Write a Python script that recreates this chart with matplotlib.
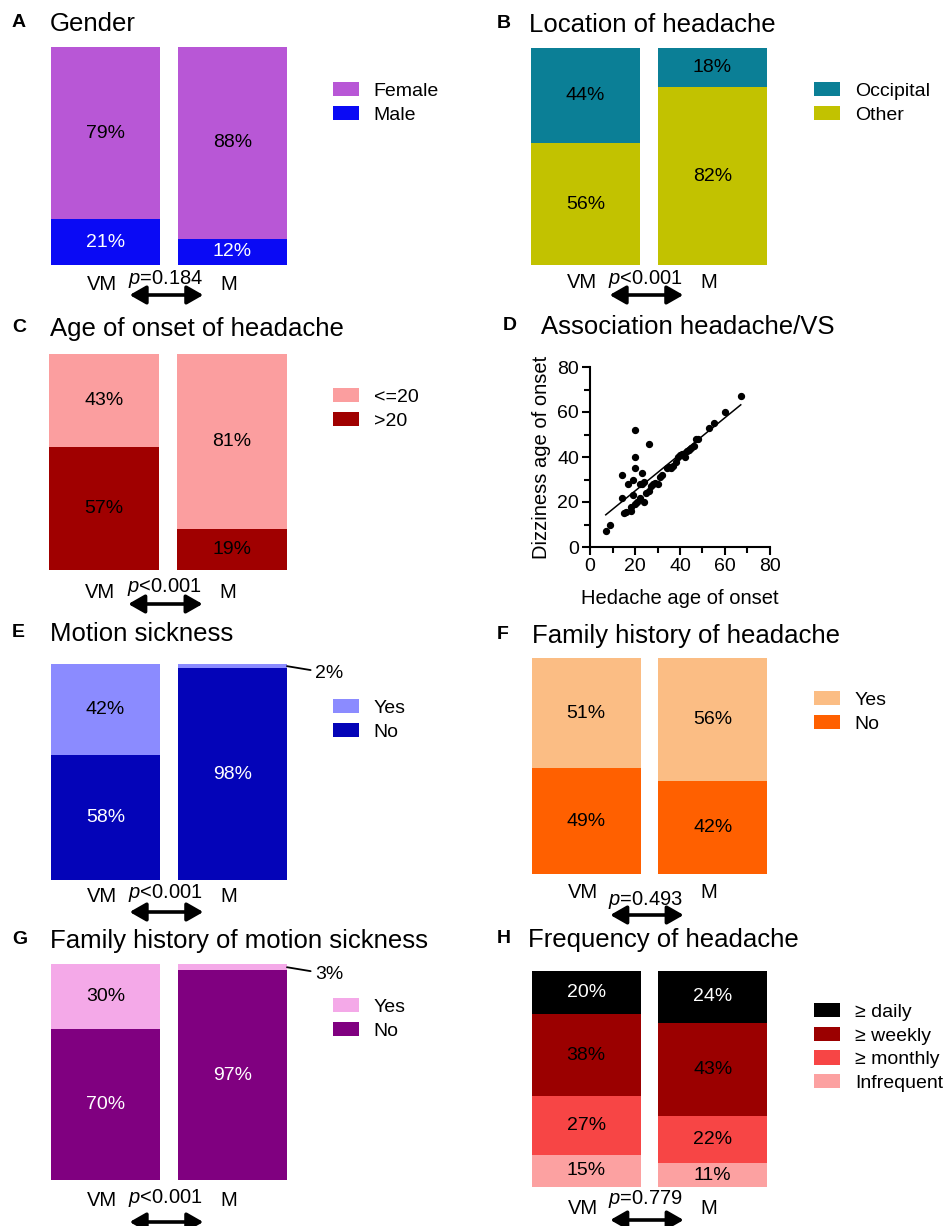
import matplotlib
matplotlib.use("Agg")
import matplotlib.pyplot as plt
from matplotlib.patches import Patch
import numpy as np

plt.rcParams['font.family'] = ['Liberation Sans', 'DejaVu Sans']
plt.rcParams['mathtext.fontset'] = 'custom'
plt.rcParams['mathtext.it'] = 'Liberation Sans:italic'
plt.rcParams['mathtext.rm'] = 'Liberation Sans'

# ---- data (segments listed top to bottom) ----
groups = ['VM', 'M']

gender_cats = ['Female', 'Male']
gender_vm = [79, 21]
gender_m = [88, 12]
gender_p = '$p$=0.184'

location_cats = ['Occipital', 'Other']
location_vm = [44, 56]
location_m = [18, 82]
location_p = '$p$<0.001'

onset_cats = ['<=20', '>20']
onset_vm = [43, 57]
onset_m = [81, 19]
onset_p = '$p$<0.001'

motion_cats = ['Yes', 'No']
motion_vm = [42, 58]
motion_m = [2, 98]
motion_p = '$p$<0.001'

famhead_cats = ['Yes', 'No']
famhead_vm = [51, 49]
famhead_m = [56, 42]
famhead_p = '$p$=0.493'

fammotion_cats = ['Yes', 'No']
fammotion_vm = [30, 70]
fammotion_m = [3, 97]
fammotion_p = '$p$<0.001'

freq_cats = ['\u2265 daily', '\u2265 weekly', '\u2265 monthly', 'Infrequent']
freq_vm = [20, 38, 27, 15]
freq_m = [24, 43, 22, 11]
freq_p = '$p$=0.779'

# headache onset age vs dizziness onset age
head_age = [7, 9, 14, 14, 15, 16, 17, 18, 19, 19, 18, 20, 21, 20, 20, 20, 22, 22,
            23, 23, 24, 24, 26, 25, 26, 27, 28, 29, 30, 31, 32, 34, 35, 36, 37, 38,
            39, 40, 41, 42, 43, 44, 45, 46, 47, 48, 53, 55, 60, 67]
dizzy_age = [7, 10, 32, 22, 15, 15.5, 28, 16, 30, 23, 18, 19, 20, 52, 40, 35, 28, 22,
             33, 28, 29, 20, 46, 24, 25, 27, 28, 28.5, 28, 31, 32, 35, 35.5, 35, 36, 38,
             40, 41, 41.5, 40, 42.5, 43, 44, 45, 48, 48, 53, 55, 60, 67]

W, H = 944, 1226
fig = plt.figure(figsize=(W / 100, H / 100), dpi=100)


def px_axes(x0, y0, x1, y1):
    return fig.add_axes([x0 / W, 1 - y1 / H, (x1 - x0) / W, (y1 - y0) / H])


def header(lx, tx, base, letter, title):
    fig.text(lx / W, 1 - (base - 4) / H, letter, fontsize=14, fontweight='bold',
             va='baseline')
    fig.text(tx / W, 1 - base / H, title, fontsize=18.5, va='baseline')


BW = 109 / 127  # bar width in data units (bar centres 1 apart)


def stacked(box, cats, vm, m, colors, tcolors, ptxt, leg, offs):
    x0, y0, x1, y1 = box
    ax = px_axes(x0, y0, x1, y1)
    ax.set_xlim(-BW / 2, 1 + BW / 2)
    ax.set_ylim(0, 100)
    ax.axis('off')
    hpx = y1 - y0
    for xi, vals in enumerate([vm, m]):
        vals = np.array(vals, dtype=float)
        h = vals / vals.sum() * 100
        bottom = 100.0
        for k in range(len(vals)):
            bottom -= h[k]
            ax.bar(xi, h[k], bottom=bottom, width=BW, color=colors[k], linewidth=0)
            if h[k] >= 5:
                ax.text(xi, bottom + h[k] / 2, f'{vals[k]:.0f}%', ha='center',
                        va='center', fontsize=14, color=tcolors[k])
            else:
                ax.annotate(f'{vals[k]:.0f}%', xy=(xi + BW / 2, bottom + h[k] / 2),
                            xytext=(20, -5), textcoords='offset points',
                            ha='left', va='center', fontsize=14,
                            arrowprops=dict(arrowstyle='-', lw=1.3, color='black',
                                            shrinkA=1, shrinkB=0))
    vm_dy, p_dy, a_dy = offs
    for xi, g in enumerate(groups):
        ax.text(xi - 0.03, -vm_dy / hpx * 100, g, ha='center', va='center', fontsize=14.5)
    ax.text(0.47, -p_dy / hpx * 100, ptxt, ha='center', va='center', fontsize=14.5)
    ax.annotate('', xy=(0.19, -a_dy / hpx * 100), xytext=(0.77, -a_dy / hpx * 100),
                arrowprops=dict(arrowstyle='<|-|>,head_length=0.7,head_width=0.4',
                                lw=2.6, color='black', shrinkA=0, shrinkB=0,
                                mutation_scale=14),
                annotation_clip=False)
    handles = [Patch(facecolor=c, edgecolor='none') for c in colors]
    lx, ly = leg
    ax.legend(handles, cats, loc='upper left', bbox_to_anchor=(lx / W, 1 - ly / H),
              bbox_transform=fig.transFigure, frameon=False, fontsize=14,
              borderpad=0, borderaxespad=0, handlelength=1.35, handleheight=0.75,
              handletextpad=0.75, labelspacing=0.3)
    return ax


# A
header(12, 50, 31, 'A', 'Gender')
stacked((51, 47, 287, 265), gender_cats, gender_vm, gender_m,
        ['#b857d6', '#0a0af5'], ['black', 'white'], gender_p, (333, 82), (19, 14, 30))
# B
header(497, 529, 32, 'B', 'Location of headache')
stacked((531, 48, 767, 265), location_cats, location_vm, location_m,
        ['#0b7f96', '#c2c200'], ['black', 'black'], location_p, (814, 82), (18, 14, 30))
# C
header(12, 50, 336, 'C', 'Age of onset of headache')
stacked((49, 354, 287, 570), onset_cats, onset_vm, onset_m,
        ['#fb9e9f', '#a00000'], ['black', 'black'], onset_p, (333, 388), (23, 17, 34))
# E
header(12, 50, 641, 'E', 'Motion sickness')
stacked((51, 664, 287, 880), motion_cats, motion_vm, motion_m,
        ['#8b8bff', '#0404b8'], ['black', 'white'], motion_p, (333, 699), (17, 13, 32))
# F
header(497, 532, 643, 'F', 'Family history of headache')
stacked((532, 658, 767, 874), famhead_cats, famhead_vm, famhead_m,
        ['#fbbd84', '#ff6000'], ['black', 'black'], famhead_p, (814, 691), (19, 26, 41))
# G
header(12, 50, 948, 'G', 'Family history of motion sickness')
stacked((51, 964, 287, 1180), fammotion_cats, fammotion_vm, fammotion_m,
        ['#f4a9e8', '#800080'], ['black', 'white'], fammotion_p, (333, 998), (20, 18, 42))
# H
header(497, 528, 947, 'H', 'Frequency of headache')
stacked((532, 971, 767, 1187), freq_cats, freq_vm, freq_m,
        ['#000000', '#9b0000', '#f74545', '#fca1a1'],
        ['white', 'black', 'black', 'black'], freq_p, (814, 1003), (21, 12, 33))

# D scatter
header(503, 541, 334, 'D', 'Association headache/VS')
axd = px_axes(590, 367, 770, 547)
axd.scatter(head_age, dizzy_age, s=18, color='black', zorder=3)
slope, icpt = np.polyfit(head_age, dizzy_age, 1)
xs = np.array([min(head_age), max(head_age)])
axd.plot(xs, slope * xs + icpt, color='black', lw=1.1)
axd.set_xlim(0, 80)
axd.set_ylim(0, 80)
axd.set_xticks([0, 20, 40, 60, 80])
axd.set_yticks([0, 20, 40, 60, 80])
axd.set_xticks([10, 30, 50, 70], minor=True)
axd.set_yticks([10, 30, 50, 70], minor=True)
for s in ['top', 'right']:
    axd.spines[s].set_visible(False)
for s in ['left', 'bottom']:
    axd.spines[s].set_linewidth(1.5)
axd.tick_params(which='major', length=6, width=1.5, labelsize=14, pad=2)
axd.tick_params(which='minor', length=4, width=1.5)
axd.set_xlabel('Hedache age of onset', fontsize=14.5, labelpad=10)
axd.set_ylabel('Dizziness age of onset', fontsize=14.5, labelpad=4)

fig.savefig('out.png', dpi=100)
